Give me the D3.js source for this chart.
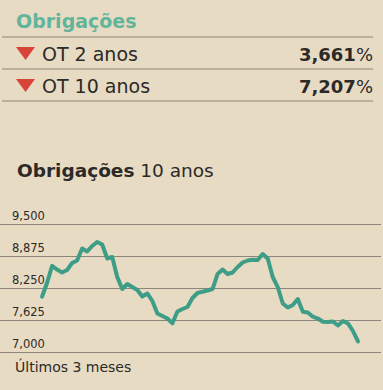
<!DOCTYPE html>
<html>
<head>
<meta charset="utf-8">
<script src="https://cdn.jsdelivr.net/npm/d3@7"></script>
<style>
  html, body { margin: 0; padding: 0; background: #e8dbc4; }
  svg { display: block; font-family: 'DejaVu Sans', sans-serif; }
</style>
</head>
<body>
<div id="diagram"></div>
<script>
// header table
const rowLabels = ['OT 2 anos', 'OT 10 anos'];
const rowValues = [3.661, 7.207];

// 10 year bond yield, last 3 months (daily, %)
const yields10 = [
  8.080, 8.348, 8.680, 8.611, 8.553, 8.602, 8.738, 8.787, 9.021, 8.963,
  9.070, 9.148, 9.099, 8.826, 8.855, 8.465, 8.230, 8.328, 8.269, 8.211,
  8.084, 8.143, 7.996, 7.752, 7.703, 7.654, 7.561, 7.791, 7.840, 7.879,
  8.055, 8.152, 8.178, 8.201, 8.230, 8.523, 8.611, 8.523, 8.553, 8.660,
  8.748, 8.787, 8.801, 8.797, 8.914, 8.826, 8.465, 8.269, 7.947, 7.869,
  7.918, 8.035, 7.785, 7.771, 7.689, 7.654, 7.590, 7.586, 7.596, 7.518,
  7.605, 7.557, 7.410, 7.207
];
const yTicks = [7.000, 7.625, 8.250, 8.875, 9.500];

!(function () {
  'use strict'
  let
    width = 383,
    height = 390,
    ink = '#2b2a28',
    rule = '#8c857b',
    svg = undefined,
    pt = undefined,
    xScale = undefined,
    yScale = undefined,
    line = undefined;

  // portuguese number format: comma as decimal mark
  pt = d3.formatLocale({ decimal: ',', thousands: '.', grouping: [3], currency: ['', ' €'] });

  svg = d3.select('#diagram')
    .append('svg')
    .attr('width', width)
    .attr('height', height);

  svg.append('rect')
    .attr('width', width)
    .attr('height', height)
    .attr('fill', '#e8dbc4');

  // - - - header table - - -
  svg.append('text')
    .attr('x', 16)
    .attr('y', 28)
    .attr('font-size', 19)
    .attr('font-weight', 'bold')
    .attr('fill', '#62b49b')
    .text('Obrigações');

  svg.selectAll('line.rule')
    .data([37, 69, 101])
    .enter()
    .append('line')
    .attr('class', 'rule')
    .attr('x1', 2)
    .attr('x2', 373)
    .attr('y1', function (d) { return d; })
    .attr('y2', function (d) { return d; })
    .attr('stroke', rule)
    .attr('stroke-width', 1);

  let rows = svg.selectAll('g.row')
    .data(rowLabels)
    .enter()
    .append('g')
    .attr('class', 'row')
    .attr('transform', function (d, i) { return 'translate(0,' + (61 + i * 32) + ')'; });

  rows.append('path')
    .attr('d', 'M16,-14 L35,-14 L25.5,-1 Z')
    .attr('fill', '#d8433a');

  rows.append('text')
    .attr('x', 42)
    .attr('font-size', 19)
    .attr('fill', ink)
    .text(function (d) { return d; });

  let val = rows.append('text')
    .attr('x', 373)
    .attr('text-anchor', 'end')
    .attr('font-size', 18)
    .attr('fill', ink);
  val.append('tspan')
    .attr('font-weight', 'bold')
    .text(function (d, i) { return pt.format('.3f')(rowValues[i]); });
  val.append('tspan')
    .text('%');

  // - - - chart - - -
  let title = svg.append('text')
    .attr('x', 17)
    .attr('y', 177)
    .attr('font-size', 18.5)
    .attr('fill', ink);
  title.append('tspan').attr('font-weight', 'bold').text('Obrigações');
  title.append('tspan').text(' 10 anos');

  xScale = d3.scaleLinear()
    .domain([0, yields10.length - 1])
    .range([42, 358]);

  yScale = d3.scaleLinear()
    .domain([7.0, 9.5])
    .range([352, 224]);

  let grid = svg.append('g')
    .call(d3.axisLeft(yScale)
      .tickValues(yTicks)
      .tickSize(-381)
      .tickFormat(pt.format('.3f')));

  grid.select('.domain').remove();
  grid.selectAll('.tick line')
    .attr('stroke', rule)
    .attr('stroke-width', 1);
  grid.selectAll('.tick text')
    .attr('x', 12)
    .attr('dy', -5)
    .attr('text-anchor', 'start')
    .attr('font-family', "'DejaVu Sans', sans-serif")
    .attr('font-size', 11.5)
    .attr('fill', ink);

  line = d3.line()
    .x(function (d, i) { return xScale(i); })
    .y(function (d) { return yScale(d); });

  svg.append('path')
    .datum(yields10)
    .attr('d', line)
    .attr('fill', 'none')
    .attr('stroke', '#3d9d86')
    .attr('stroke-width', 4)
    .attr('stroke-linejoin', 'round')
    .attr('stroke-linecap', 'round');

  svg.append('text')
    .attr('x', 15)
    .attr('y', 372)
    .attr('font-size', 14)
    .attr('fill', ink)
    .text('Últimos 3 meses');
}())
</script>
</body>
</html>
